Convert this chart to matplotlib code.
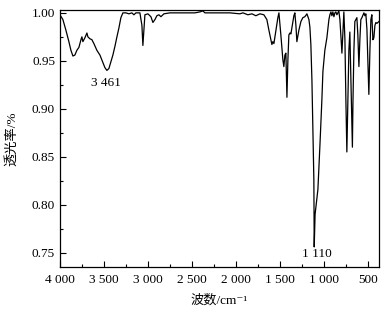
import numpy as np
import matplotlib
matplotlib.use("Agg")
import matplotlib.pyplot as plt
from matplotlib.ticker import MultipleLocator

plt.rcParams["font.family"] = ["Liberation Serif", "Noto Sans CJK SC", "DejaVu Serif"]

# IR spectrum (wavenumber / cm-1, transmittance)
wavenumber = [
    4000, 3966, 3932, 3898, 3875, 3852, 3830, 3807, 3784, 3761, 3750, 3739,
    3716, 3693, 3682, 3659, 3636, 3614, 3580, 3545, 3511, 3489, 3466, 3443,
    3420, 3398, 3375, 3352, 3330, 3307, 3284, 3250, 3216, 3182, 3159, 3136,
    3091, 3068, 3057, 3045, 3034, 3000, 2966, 2943, 2920, 2898, 2875, 2852,
    2818, 2750, 2636, 2466, 2409, 2375, 2352, 2295, 2068, 1955, 1920, 1864,
    1818, 1773, 1727, 1682, 1648, 1625, 1602, 1591, 1580, 1568, 1545, 1523,
    1511, 1489, 1466, 1455, 1443, 1432, 1420, 1409, 1398, 1386, 1375, 1364,
    1341, 1330, 1318, 1307, 1284, 1261, 1250, 1239, 1216, 1193, 1170, 1159,
    1148, 1136, 1125, 1114, 1110, 1100, 1068, 1045, 1023, 1011, 989, 966,
    943, 932, 920, 909, 898, 886, 875, 864, 852, 830, 818, 795, 784, 773,
    761, 750, 739, 727, 716, 705, 693, 682, 676, 670, 659, 648, 625, 614,
    602, 591, 580, 568, 545, 534, 523, 511, 489, 477, 466, 455, 443, 432,
    420, 409, 398, 386, 375,
]
transmittance = [
    0.998, 0.993, 0.982, 0.970, 0.961, 0.955, 0.956, 0.961, 0.964, 0.972, 0.975, 0.970,
    0.974, 0.979, 0.975, 0.973, 0.972, 0.968, 0.961, 0.956, 0.948, 0.943, 0.940, 0.942,
    0.949, 0.956, 0.965, 0.975, 0.984, 0.995, 1.000, 1.000, 0.999, 1.000, 0.998, 1.000,
    1.000, 0.987, 0.966, 0.982, 0.998, 0.999, 0.996, 0.990, 0.993, 0.997, 0.998, 0.996,
    0.999, 1.000, 1.000, 1.000, 1.001, 1.002, 1.000, 1.000, 1.000, 0.999, 1.000, 0.998,
    0.999, 0.997, 0.999, 0.998, 0.993, 0.982, 0.972, 0.967, 0.970, 0.968, 0.982, 0.995,
    1.000, 0.977, 0.951, 0.944, 0.956, 0.958, 0.912, 0.951, 0.977, 0.979, 0.978, 0.984,
    0.997, 1.000, 0.987, 0.970, 0.982, 0.991, 0.993, 0.995, 0.996, 0.999, 0.993, 0.985,
    0.967, 0.930, 0.878, 0.826, 0.756, 0.790, 0.816, 0.862, 0.909, 0.939, 0.961, 0.974,
    0.993, 0.998, 1.001, 0.997, 1.001, 0.996, 1.000, 1.001, 0.998, 1.002, 0.993, 0.958,
    0.980, 1.001, 0.972, 0.909, 0.855, 0.909, 0.961, 0.980, 0.930, 0.880, 0.860, 0.905,
    0.961, 0.991, 0.995, 0.977, 0.944, 0.972, 0.993, 0.995, 1.000, 0.997, 0.999, 0.983,
    0.915, 0.961, 0.993, 0.998, 0.972, 0.974, 0.987, 0.990, 0.989, 0.990, 0.991,
]

xticks = [4000, 3500, 3000, 2500, 2000, 1500, 1000, 500]
xticklabels = ["4 000", "3 500", "3 000", "2 500", "2 000", "1 500", "1 000", "500"]
yticks = [0.75, 0.80, 0.85, 0.90, 0.95, 1.00]

peak_labels = ["3 461", "1 110"]
peak_x = [3475, 1075]
peak_y = [0.927, 0.749]

fig = plt.figure(figsize=(3.89, 3.12), dpi=100)
ax = fig.add_axes([0.154, 0.144, 0.820, 0.824])

ax.plot(wavenumber, transmittance, color="black", linewidth=0.9)

ax.set_xlim(4000, 375)
ax.set_ylim(0.735, 1.003)
ax.set_xticks(xticks)
ax.set_xticklabels(xticklabels)
ax.set_yticks(yticks)
ax.set_yticklabels([f"{v:.2f}" for v in yticks])
ax.xaxis.set_minor_locator(MultipleLocator(250))
ax.yaxis.set_minor_locator(MultipleLocator(0.025))
ax.tick_params(which="both", direction="in", labelsize=9.5, top=False, right=False)
ax.tick_params(which="major", length=4, width=0.8)
ax.tick_params(which="minor", length=2.5, width=0.8)
ax.tick_params(axis="x", pad=5)
for s in ax.spines.values():
    s.set_linewidth(0.9)

# peak annotations
for lab, px, py in zip(peak_labels, peak_x, peak_y):
    ax.text(px, py, lab, ha="center", va="center", fontsize=9.5)

ax.set_xlabel("波数/cm⁻¹", fontsize=9.5, labelpad=6)
ax.set_ylabel("透光率/%", fontsize=9.5, labelpad=10)

fig.savefig("out.png", dpi=100)
